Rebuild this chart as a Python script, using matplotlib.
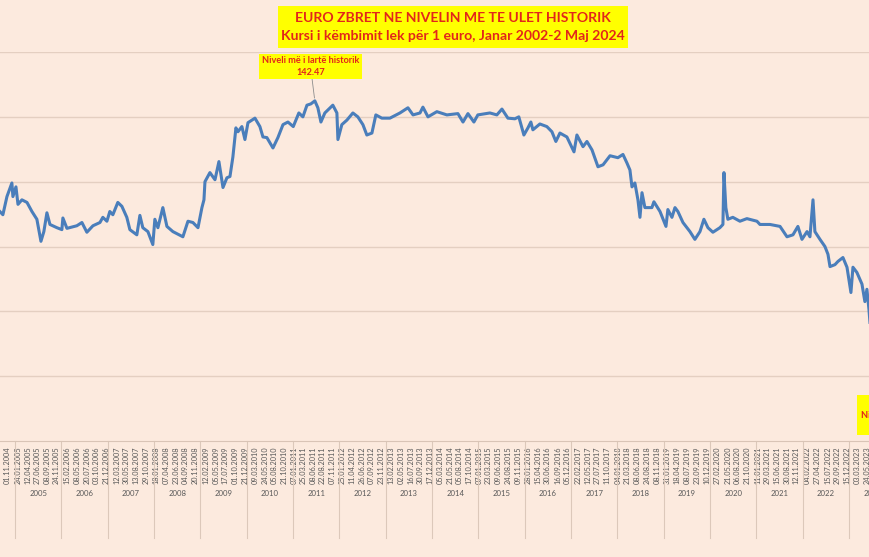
import numpy as np
import pandas as pd
import matplotlib
matplotlib.use('Agg')
import matplotlib.pyplot as plt
import matplotlib.dates as mdates
from matplotlib.patches import Rectangle

# kursi lek per 1 euro (lexuar nga grafiku)
dates = [
    '2004-09-03', '2004-09-27', '2004-10-29', '2004-12-07', '2004-12-15', '2005-01-08', '2005-01-24',
    '2005-02-24', '2005-04-05', '2005-05-14', '2005-06-22', '2005-07-24', '2005-08-16', '2005-09-09',
    '2005-10-03', '2005-11-27', '2006-01-05', '2006-01-13', '2006-02-14', '2006-05-03', '2006-06-12',
    '2006-07-21', '2006-09-07', '2006-11-01', '2006-11-24', '2006-12-26', '2007-01-18', '2007-02-11',
    '2007-03-22', '2007-04-23', '2007-06-01', '2007-06-25', '2007-08-19', '2007-09-12', '2007-10-05',
    '2007-11-14', '2007-12-23', '2008-01-08', '2008-02-01', '2008-03-11', '2008-04-12', '2008-05-29',
    '2008-08-16', '2008-09-25', '2008-11-03', '2008-12-13', '2009-01-13', '2009-01-29', '2009-02-06',
    '2009-03-17', '2009-04-26', '2009-05-27', '2009-06-28', '2009-07-29', '2009-08-22', '2009-09-14',
    '2009-10-08', '2009-10-24', '2009-11-24', '2009-12-18', '2010-01-11', '2010-03-07', '2010-04-15',
    '2010-05-09', '2010-06-09', '2010-07-27', '2010-09-04', '2010-10-14', '2010-11-22', '2011-01-03',
    '2011-02-16', '2011-03-20', '2011-04-21', '2011-05-22', '2011-06-22', '2011-07-16', '2011-08-09',
    '2011-09-09', '2011-11-11', '2011-12-13', '2011-12-21', '2012-01-21', '2012-03-01', '2012-04-17',
    '2012-05-26', '2012-07-05', '2012-08-05', '2012-09-14', '2012-10-15', '2012-12-01', '2013-02-03',
    '2013-04-23', '2013-06-25', '2013-08-04', '2013-09-28', '2013-10-21', '2013-11-30', '2014-02-08',
    '2014-04-28', '2014-07-24', '2014-09-02', '2014-10-11', '2014-11-27', '2014-12-28', '2015-04-02',
    '2015-05-27', '2015-07-06', '2015-08-22', '2015-10-16', '2015-11-16', '2015-12-26', '2016-01-27',
    '2016-02-19', '2016-03-06', '2016-04-30', '2016-06-24', '2016-08-03', '2016-09-03', '2016-10-05',
    '2016-11-29', '2017-01-24', '2017-02-16', '2017-04-05', '2017-05-06', '2017-06-15', '2017-08-01',
    '2017-09-10', '2017-11-04', '2018-01-05', '2018-02-14', '2018-03-17', '2018-04-10', '2018-04-26',
    '2018-05-19', '2018-06-12', '2018-06-28', '2018-07-14', '2018-08-06', '2018-09-30', '2018-10-16',
    '2018-12-03', '2019-01-19', '2019-02-03', '2019-03-07', '2019-03-31', '2019-04-23', '2019-06-02',
    '2019-07-27', '2019-09-04', '2019-10-14', '2019-11-14', '2019-12-16', '2020-01-24', '2020-03-19',
    '2020-04-12', '2020-04-20', '2020-05-05', '2020-05-21', '2020-06-29', '2020-08-24', '2020-10-18',
    '2021-01-05', '2021-01-29', '2021-04-18', '2021-07-06', '2021-08-30', '2021-10-16', '2021-11-24',
    '2021-12-26', '2022-02-04', '2022-02-27', '2022-03-23', '2022-04-07', '2022-05-17', '2022-06-25',
    '2022-07-19', '2022-08-04', '2022-09-12', '2022-10-06', '2022-11-14', '2022-12-16', '2023-01-16',
    '2023-02-01', '2023-03-04', '2023-04-13', '2023-05-06', '2023-05-22', '2023-06-07', '2023-06-15',
]
rate = [
    125.4, 124.9, 127.7, 129.8, 127.7, 129.2, 126.5,
    127.2, 126.8, 125.4, 124.2, 120.8, 122.3, 125.2,
    123.4, 122.9, 122.6, 124.4, 122.8, 123.2, 123.7,
    122.2, 123.2, 123.7, 124.5, 123.9, 125.4, 124.9,
    126.8, 126.2, 124.5, 122.6, 121.8, 124.8, 122.9,
    122.3, 120.3, 124.2, 122.9, 126.0, 123.1, 122.3,
    121.5, 123.9, 123.7, 122.9, 126.0, 127.2, 130.0,
    131.4, 130.3, 133.1, 129.1, 130.6, 130.8, 133.8,
    138.3, 137.7, 138.5, 136.5, 139.1, 139.8, 138.5,
    136.9, 136.8, 135.2, 136.8, 138.8, 139.2, 138.5,
    140.6, 140.0, 141.8, 142.0, 142.47, 141.4, 139.2,
    140.6, 141.8, 140.6, 136.5, 138.8, 139.5, 140.6,
    140.0, 138.8, 137.2, 137.5, 140.3, 139.8, 139.8,
    140.6, 141.4, 140.3, 140.6, 141.5, 140.0, 140.8,
    140.3, 140.5, 139.2, 140.5, 139.2, 140.3, 140.6,
    140.3, 141.2, 139.8, 139.7, 140.0, 137.2, 138.3,
    139.2, 138.0, 138.9, 138.5, 137.7, 136.2, 137.5,
    136.9, 134.6, 137.2, 135.4, 136.2, 134.9, 132.3,
    132.6, 134.0, 133.7, 134.2, 132.9, 131.8, 129.2,
    129.8, 127.2, 124.5, 128.3, 126.0, 126.0, 126.9,
    125.4, 123.1, 125.7, 124.5, 126.0, 125.4, 123.7,
    122.3, 121.1, 122.3, 124.2, 122.9, 122.2, 122.9,
    123.4, 131.4, 126.0, 124.2, 124.5, 123.9, 124.3,
    123.9, 123.4, 123.4, 123.1, 121.5, 121.8, 123.1,
    121.1, 122.3, 121.5, 127.2, 122.3, 121.1, 120.0,
    118.8, 116.9, 117.2, 117.7, 118.3, 116.8, 112.9,
    116.8, 116.0, 114.2, 111.5, 113.4, 110.3, 108.3,
]

tick_dates = [
    '17.08.2004', '01.11.2004', '24.01.2005', '12.04.2005', '27.06.2005', '08.09.2005', '24.11.2005',
    '15.02.2006', '08.05.2006', '20.07.2006', '03.10.2006', '21.12.2006', '12.03.2007', '30.05.2007',
    '13.08.2007', '29.10.2007', '18.01.2008', '07.04.2008', '23.06.2008', '04.09.2008', '20.11.2008',
    '12.02.2009', '05.05.2009', '17.07.2009', '01.10.2009', '21.12.2009', '09.03.2010', '24.05.2010',
    '05.08.2010', '21.10.2010', '07.01.2011', '25.03.2011', '08.06.2011', '22.08.2011', '07.11.2011',
    '25.01.2012', '11.04.2012', '26.06.2012', '07.09.2012', '23.11.2012', '13.02.2013', '02.05.2013',
    '16.07.2013', '30.09.2013', '17.12.2013', '05.03.2014', '21.05.2014', '05.08.2014', '17.10.2014',
    '07.01.2015', '23.03.2015', '09.06.2015', '24.08.2015', '09.11.2015', '28.01.2016', '15.04.2016',
    '30.06.2016', '16.09.2016', '05.12.2016', '22.02.2017', '12.05.2017', '27.07.2017', '11.10.2017',
    '04.01.2018', '21.03.2018', '08.06.2018', '24.08.2018', '08.11.2018', '31.01.2019', '18.04.2019',
    '08.07.2019', '23.09.2019', '10.12.2019', '27.02.2020', '21.05.2020', '06.08.2020', '21.10.2020',
    '11.01.2021', '29.03.2021', '15.06.2021', '30.08.2021', '12.11.2021', '04.02.2022', '27.04.2022',
    '15.07.2022', '29.09.2022', '15.12.2022', '03.03.2023', '24.05.2023',
]
# year groups of the category axis (2005-2023 are in view)
years = list(range(2005, 2024))
year_lines = list(range(2003, 2025))

title1 = 'EURO ZBRET NE NIVELIN ME TE ULET HISTORIK'
title2 = 'Kursi i këmbimit lek për 1 euro, Janar 2002-2 Maj 2024'
max_label = 'Niveli më i lartë historik'
min_label = 'Niveli më i ulët historik'

bg = '#FCEADE'
red = '#E2261B'
yellow = '#FFFF00'
grid_c = '#E4CFC1'
txt_c = '#595959'

plt.rcParams['font.family'] = ['Lato', 'DejaVu Sans']

fig = plt.figure(figsize=(8.7, 5.57), dpi=100, facecolor=bg)
# the chart is a crop: plot area runs past both edges of the picture
ax = fig.add_axes([-0.1425, 0.2083, 1.1894, 0.6983])
ax.set_facecolor(bg)

x = pd.to_datetime(dates)
ax.plot(x, rate, color='#4A7EBB', lw=2.2, solid_joinstyle='round')

ax.set_xlim(pd.Timestamp('2002-01-01'), pd.Timestamp('2024-05-02'))
ax.set_ylim(90, 150)
ax.set_yticks(np.arange(100, 151, 10))
ax.yaxis.grid(True, color=grid_c, lw=1.0)
ax.set_axisbelow(True)
ax.tick_params(axis='y', left=False, labelleft=False)
for s in ['left', 'right', 'top']:
    ax.spines[s].set_visible(False)
ax.spines['bottom'].set_color('#D9C4B6')

tx = pd.to_datetime(tick_dates, format='%d.%m.%Y')
ax.set_xticks(tx)
ax.set_xticklabels(tick_dates, rotation=90, fontsize=5.3, color=txt_c)
ax.tick_params(axis='x', length=0, pad=4)

trans = ax.get_xaxis_transform()
for y in year_lines:
    x0 = mdates.date2num(pd.Timestamp(f'{y}-01-01'))
    ax.plot([x0, x0], [0, -0.249], transform=trans, color='#DCC8BA', lw=0.8, clip_on=False)
for y in years:
    xm = mdates.date2num(pd.Timestamp(f'{y}-07-02'))
    ax.text(xm, -0.136, str(y), transform=trans, ha='center', va='center',
            fontsize=5.6, color=txt_c)

# title box
fig.add_artist(Rectangle((278 / 870, 1 - 48 / 557), 350 / 870, 42 / 557,
                         transform=fig.transFigure, fc=yellow, ec='none'))
fig.text(453 / 870, 1 - 18.5 / 557, title1, ha='center', va='center', color=red,
         fontsize=10.1, fontweight='bold')
fig.text(453 / 870, 1 - 36.5 / 557, title2, ha='center', va='center', color=red,
         fontsize=10.1, fontweight='bold')

# highest level label
imax = int(np.argmax(rate))
ax.annotate(max_label + '\n' + f'{rate[imax]:.2f}', xy=(x[imax], rate[imax]),
            xytext=(310.5 / 870, 1 - 66.5 / 557), textcoords='figure fraction',
            ha='center', va='center', color=red, fontsize=6.6, fontweight='bold',
            linespacing=1.3,
            bbox=dict(boxstyle='square,pad=0.3', fc=yellow, ec='none'),
            arrowprops=dict(arrowstyle='-', color='#8C8C8C', lw=0.6, shrinkA=0, shrinkB=2))

# lowest level label (cut by the right edge)
fig.add_artist(Rectangle((857 / 870, 1 - 435 / 557), 120 / 870, 40 / 557,
                         transform=fig.transFigure, fc=yellow, ec='none'))
fig.text(861 / 870, 1 - 415 / 557, min_label, ha='left', va='center', color=red,
         fontsize=6.6, fontweight='bold')

fig.savefig('out.png', dpi=100, facecolor=bg)
